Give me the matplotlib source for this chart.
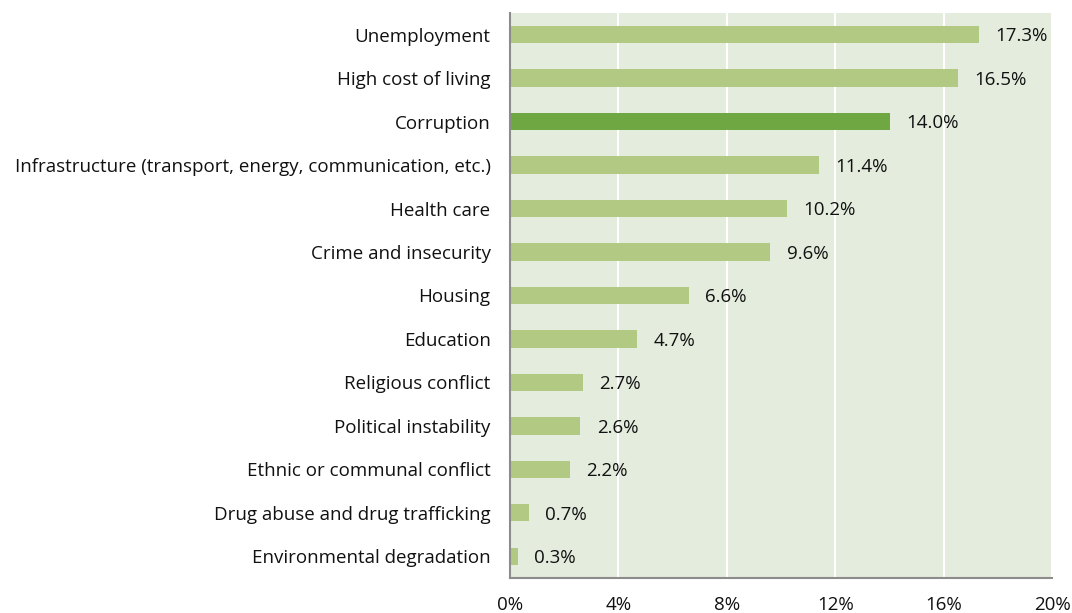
import matplotlib
matplotlib.use("Agg")
import matplotlib.pyplot as plt
from matplotlib.ticker import FuncFormatter

categories = [
    "Unemployment",
    "High cost of living",
    "Corruption",
    "Infrastructure (transport, energy, communication, etc.)",
    "Health care",
    "Crime and insecurity",
    "Housing",
    "Education",
    "Religious conflict",
    "Political instability",
    "Ethnic or communal conflict",
    "Drug abuse and drug trafficking",
    "Environmental degradation",
]
values = [17.3, 16.5, 14.0, 11.4, 10.2, 9.6, 6.6, 4.7, 2.7, 2.6, 2.2, 0.7, 0.3]
highlight = "Corruption"
x_ticks = [0, 4, 8, 12, 16, 20]

plt.rcParams["font.family"] = ["Open Sans", "DejaVu Sans"]
FS = 13.5

fig = plt.figure(figsize=(10.72, 6.13), dpi=100)
ax = fig.add_axes([0.4757, 0.0571, 0.5061, 0.9217])
ax.set_facecolor("#E4ECDD")

light, dark = "#B2C983", "#6FA843"
ypos = list(range(len(categories)))
colors = [dark if c == highlight else light for c in categories]
ax.barh(ypos, values, height=0.4, color=colors, zorder=3)

for y, v in zip(ypos, values):
    ax.text(v + 0.6, y + 0.04, f"{v:.1f}%", va="center", ha="left",
            fontsize=FS, color="#111111", zorder=4)

ax.set_yticks(ypos)
ax.set_yticklabels(categories, fontsize=FS, color="#111111")
ax.set_ylim(len(categories) - 0.5, -0.5)
ax.set_xlim(0, 20)
ax.set_xticks(x_ticks)
ax.xaxis.set_major_formatter(FuncFormatter(lambda v, p: f"{v:.0f}%"))
ax.tick_params(axis="x", length=0, pad=13, labelsize=FS, labelcolor="#111111")
ax.tick_params(axis="y", length=0, pad=14)

ax.grid(axis="x", color="white", linewidth=1.5, zorder=1)
for s in ["top", "right"]:
    ax.spines[s].set_visible(False)
for s in ["left", "bottom"]:
    ax.spines[s].set_color("#8C8C8C")
    ax.spines[s].set_linewidth(1.5)
    ax.spines[s].set_zorder(5)

fig.savefig("out.png", dpi=100)
